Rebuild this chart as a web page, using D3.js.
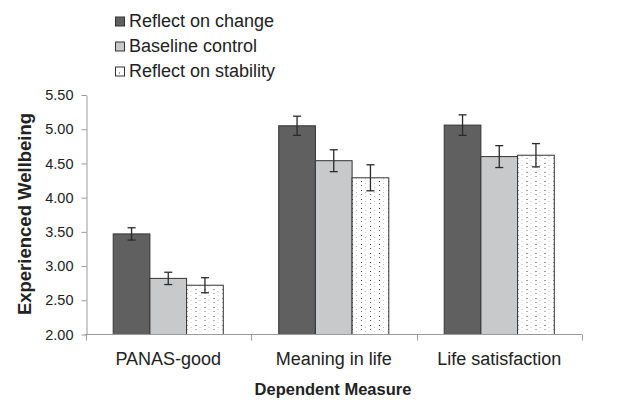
<!DOCTYPE html>
<html>
<head>
<meta charset="utf-8">
<script src="https://cdn.jsdelivr.net/npm/d3@7"></script>
<style>
  html, body { margin: 0; padding: 0; background: #fff; }
  svg { display: block; font-family: Arial, "Liberation Sans", sans-serif; }
</style>
</head>
<body>
<svg id="chart" width="640" height="400"></svg>
<script>
const categories = ["PANAS-good", "Meaning in life", "Life satisfaction"];
const seriesNames = ["Reflect on change", "Baseline control", "Reflect on stability"];
const changeValues = [3.47, 5.05, 5.06];
const baselineValues = [2.82, 4.54, 4.60];
const stabilityValues = [2.72, 4.29, 4.62];
const changeErrors = [0.09, 0.14, 0.15];
const baselineErrors = [0.09, 0.16, 0.16];
const stabilityErrors = [0.11, 0.19, 0.17];
const yTicks = [2.00, 2.50, 3.00, 3.50, 4.00, 4.50, 5.00, 5.50];
const yTitle = "Experienced Wellbeing";
const xTitle = "Dependent Measure";

const series = [
  { name: seriesNames[0], values: changeValues, errors: changeErrors, fill: "#606060" },
  { name: seriesNames[1], values: baselineValues, errors: baselineErrors, fill: "#c8c9cb" },
  { name: seriesNames[2], values: stabilityValues, errors: stabilityErrors, fill: "url(#dots)" }
];

const svg = d3.select("#chart");
const defs = svg.append("defs");
const pat = defs.append("pattern").attr("id", "dots").attr("patternUnits", "userSpaceOnUse")
  .attr("width", 9).attr("height", 9);
pat.append("rect").attr("width", 9).attr("height", 9).attr("fill", "#fff");
pat.append("rect").attr("x", 2).attr("y", 1).attr("width", 1).attr("height", 1).attr("fill", "#333");
pat.append("rect").attr("x", 2).attr("y", 5).attr("width", 1).attr("height", 1).attr("fill", "#666");
pat.append("rect").attr("x", 6).attr("y", 3).attr("width", 1).attr("height", 1).attr("fill", "#bbb");
pat.append("rect").attr("x", 6).attr("y", 7).attr("width", 1).attr("height", 1).attr("fill", "#ccc");

const x0 = d3.scaleBand().domain(categories).range([85.5, 582]).paddingInner(0).paddingOuter(0);
const x1 = d3.scaleBand().domain(seriesNames).range([0, x0.bandwidth()]).paddingInner(0).paddingOuter(0.755);
const y = d3.scaleLinear().domain([2, 5.5]).range([334.5, 95]);

const axisColor = "#9a9a9a";

// Y axis
const yAxis = svg.append("g").attr("transform", "translate(86.5,0)")
  .call(d3.axisLeft(y).tickValues(yTicks).tickFormat(d3.format(".2f")).tickSize(5).tickSizeOuter(0));
yAxis.select(".domain").attr("stroke", axisColor);
yAxis.selectAll(".tick line").attr("stroke", axisColor);
yAxis.selectAll(".tick text").attr("font-size", 14.5).attr("fill", "#222").attr("x", -13)
  .attr("font-family", "Arial, 'Liberation Sans', sans-serif");

// Bars
const groups = svg.append("g").selectAll("g").data(categories).join("g")
  .attr("transform", d => `translate(${x0(d)},0)`);

series.forEach(s => {
  groups.append("rect")
    .attr("x", (d, i) => x1(s.name))
    .attr("y", (d, i) => y(s.values[i]))
    .attr("width", x1.bandwidth())
    .attr("height", (d, i) => y(2) - y(s.values[i]))
    .attr("fill", s.fill)
    .attr("stroke", "#333")
    .attr("stroke-width", 1);
});

// Error bars
series.forEach(s => {
  const eg = groups.append("g").attr("stroke", "#2a2a2a").attr("stroke-width", 1.3);
  const cx = x1(s.name) + x1.bandwidth() / 2;
  eg.append("line").attr("x1", cx).attr("x2", cx)
    .attr("y1", (d, i) => y(s.values[i] + s.errors[i]))
    .attr("y2", (d, i) => y(s.values[i] - s.errors[i]));
  eg.append("line").attr("x1", cx - 4).attr("x2", cx + 4)
    .attr("y1", (d, i) => y(s.values[i] + s.errors[i]))
    .attr("y2", (d, i) => y(s.values[i] + s.errors[i]));
  eg.append("line").attr("x1", cx - 4).attr("x2", cx + 4)
    .attr("y1", (d, i) => y(s.values[i] - s.errors[i]))
    .attr("y2", (d, i) => y(s.values[i] - s.errors[i]));
});

// X axis
const xAxis = svg.append("g").attr("transform", "translate(0,334.5)");
xAxis.append("line").attr("x1", 85).attr("x2", 582).attr("stroke", axisColor);
xAxis.selectAll("line.tk").data([...categories.map(c => x0(c)), x0.range()[1]]).join("line")
  .attr("class", "tk").attr("x1", d => Math.round(d) + 0.5).attr("x2", d => Math.round(d) + 0.5)
  .attr("y1", 0).attr("y2", 6).attr("stroke", axisColor);
xAxis.selectAll("text").data(categories).join("text")
  .attr("x", d => x0(d) + x0.bandwidth() / 2).attr("y", 30)
  .attr("text-anchor", "middle").attr("font-size", 18).attr("fill", "#222").text(d => d);

// Axis titles
svg.append("text").attr("x", 333).attr("y", 395).attr("text-anchor", "middle")
  .attr("font-size", 16.5).attr("font-weight", "bold").attr("fill", "#222").text(xTitle);
svg.append("text").attr("transform", "translate(31,214) rotate(-90)").attr("text-anchor", "middle")
  .attr("font-size", 18.5).attr("font-weight", "bold").attr("fill", "#222").text(yTitle);

// Legend
const legend = svg.append("g").selectAll("g").data(series).join("g")
  .attr("transform", (d, i) => `translate(115,${16.5 + i * 25})`);
legend.append("rect").attr("x", 0.5).attr("y", 0.5).attr("width", 9).attr("height", 9)
  .attr("fill", d => d.name === seriesNames[2] ? "#fff" : d.fill).attr("stroke", "#333");
legend.filter(d => d.name === seriesNames[2]).append("rect")
  .attr("x", 4).attr("y", 6).attr("width", 1).attr("height", 1).attr("fill", "#333");
legend.append("text").attr("x", 14).attr("y", 10).attr("font-size", 18).attr("fill", "#222")
  .text(d => d.name);
</script>
</body>
</html>
